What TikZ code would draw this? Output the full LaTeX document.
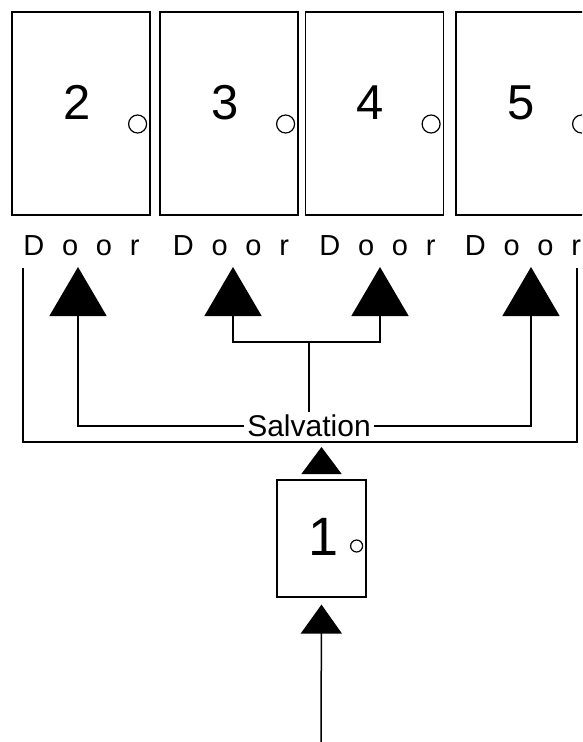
\documentclass[tikz,border=0pt]{standalone}
\usepackage{fontspec}
\setmainfont{Liberation Sans}
\newfontfamily\doorfont[WordSpace=2.2]{Liberation Sans}
\usetikzlibrary{arrows.meta}
\begin{document}
\begin{tikzpicture}[x=1pt,y=-1pt]
\tikzset{door/.style={draw,rectangle,line width=1.2pt,minimum width=138pt,minimum height=203pt,inner sep=0pt},
digit/.style={font=\fontsize{49}{49}\selectfont,inner sep=0pt},
doorlabel/.style={font=\doorfont\fontsize{29}{29}\selectfont,inner sep=0pt,anchor=base},
link/.style={line width=1.5pt,-{Triangle[width=57pt,length=49pt]}},
small link/.style={line width=1.5pt,-{Triangle[width=40pt,length=27pt]}}}
\useasboundingbox (0,0) rectangle (582,742);
\clip (0,0) rectangle (582,742);
\foreach \n/\x/\lx in {2/81/81.5,3/229/231,4/374.5/377.5,5/525/523}{
\node [door] (d\n) at (\x,113.5) {};
\node [digit] at ([shift={(-4,-11)}]d\n.center) {\n};
\draw [line width=1.2pt] ([shift={(-13,10.5)}]d\n.east) circle (9pt);
\node [doorlabel] (l\n) at (\lx,255) {D o o r};
}
\node [door,minimum width=89pt,minimum height=117pt] (d1) at (321.5,538.5) {};
\node [digit,font=\fontsize{54}{54}\selectfont] at ([shift={(2.5,-2)}]d1.center) {1};
\draw [line width=1.2pt] ([shift={(-10,7.5)}]d1.east) circle (6pt);
\coordinate (t2) at (78,267);
\coordinate (t3) at (233,267);
\coordinate (t4) at (380,267);
\coordinate (t5) at (531,267);
\node [font=\fontsize{30}{30}\selectfont,inner sep=3pt] (salv) at (309,426) {Salvation};
\coordinate (j) at (309,342);
\draw [link] (salv.west) -| (t2);
\draw [link] (salv.east) -| (t5);
\draw [link] (salv.north) -- (j) -| (t3);
\draw [link] (j) -| (t4);
\draw [line width=2pt] (23,268) -- (23,442) -- (577,442) -- (577,268);
\coordinate (t1) at (320,447);
\draw [small link,shorten <=6pt] (d1.north) -- (d1.north |- t1);
\coordinate (s) at (321,742);
\draw [line width=1.5pt,-{Triangle[width=41pt,length=29pt]},shorten >=7pt] (s) -- (d1.south);
\end{tikzpicture}
\end{document}
